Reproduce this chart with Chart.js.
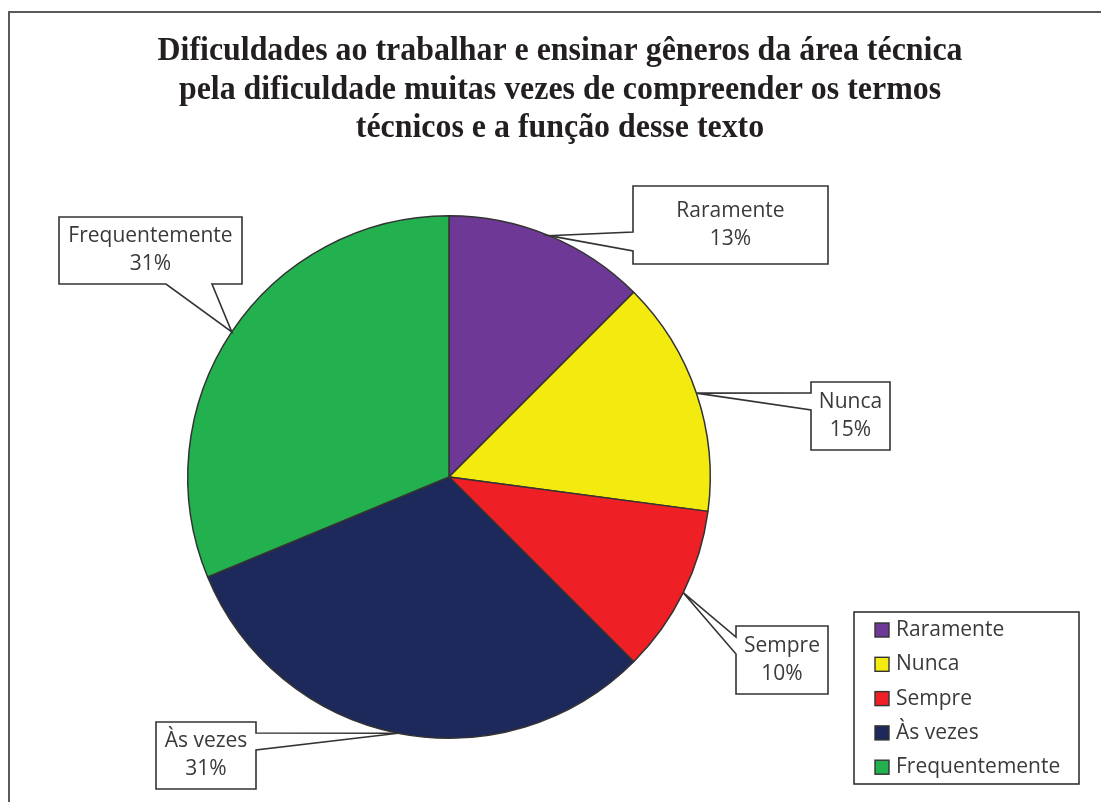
<!DOCTYPE html>
<html>
<head>
<meta charset="utf-8">
<script src="https://cdn.jsdelivr.net/npm/chart.js@4"></script>
<style>
  html, body { margin: 0; padding: 0; background: #fff; }
  #chartWrapper { width: 1101px; height: 802px; }
</style>
</head>
<body>
<div id="chartWrapper">
  <canvas id="pieChart" width="1101" height="802"></canvas>
</div>
<script>
// values (slice angles), labels as printed
const categories = ['Raramente', 'Nunca', 'Sempre', 'Às vezes', 'Frequentemente'];
const values = [12.5, 14.6, 10.4, 31.25, 31.25];
const percentLabels = ['13%', '15%', '10%', '31%', '31%'];
const sliceColors = ['#6E3996', '#F3EA10', '#EE2026', '#1E295B', '#23B14F'];
const titleLines = [
  'Dificuldades ao trabalhar e ensinar gêneros da área técnica',
  'pela dificuldade muitas vezes de compreender os termos',
  'técnicos e a função desse texto'
];

const LINE = '#333333';
const TEXT = '#3a3a3a';
const LABEL_FONT = '21px "Open Sans"';

// callout boxes: box rect + which side the pointer leaves from (a, b = offsets along that side)
const calloutBoxes = [
  { x: 633, y: 186, w: 195, h: 78, side: 'left', a: 46, b: 65 },
  { x: 811, y: 382, w: 79, h: 68, side: 'left', a: 11, b: 28 },
  { x: 736, y: 626, w: 92, h: 68, side: 'left', a: 11, b: 28 },
  { x: 156, y: 722, w: 100, h: 67, side: 'right', a: 11, b: 28 },
  { x: 59, y: 217, w: 183, h: 67, side: 'bottom', a: 107, b: 153 }
];

const framePlugin = {
  id: 'frame',
  beforeDraw(chart) {
    const ctx = chart.ctx;
    ctx.save();
    ctx.fillStyle = '#fff';
    ctx.fillRect(0, 0, chart.width, chart.height);
    ctx.strokeStyle = '#5a5a5a';
    ctx.lineWidth = 2;
    ctx.beginPath();
    ctx.moveTo(9, chart.height);
    ctx.lineTo(9, 12);
    ctx.lineTo(chart.width, 12);
    ctx.stroke();

    // title, a bit condensed like the original
    ctx.fillStyle = '#231F20';
    ctx.font = 'bold 34px "Liberation Serif"';
    ctx.textAlign = 'center';
    ctx.textBaseline = 'alphabetic';
    const sx = 805 / ctx.measureText(titleLines[0]).width;
    titleLines.forEach((t, i) => {
      ctx.save();
      ctx.translate(560, 60 + i * 38.5);
      ctx.scale(sx, 1);
      ctx.fillText(t, 0, 0);
      ctx.restore();
    });
    ctx.restore();
  }
};

const calloutPlugin = {
  id: 'callouts',
  afterDatasetsDraw(chart) {
    const ctx = chart.ctx;
    const arcs = chart.getDatasetMeta(0).data;
    ctx.save();
    arcs.forEach((arc, i) => {
      const box = calloutBoxes[i];
      const mid = (arc.startAngle + arc.endAngle) / 2;
      const tx = arc.x + arc.outerRadius * Math.cos(mid);
      const ty = arc.y + arc.outerRadius * Math.sin(mid);
      const l = box.x, t = box.y, r = box.x + box.w, b = box.y + box.h;

      ctx.beginPath();
      if (box.side === 'left') {
        ctx.moveTo(l, t);
        ctx.lineTo(r, t);
        ctx.lineTo(r, b);
        ctx.lineTo(l, b);
        ctx.lineTo(l, t + box.b);
        ctx.lineTo(tx, ty);
        ctx.lineTo(l, t + box.a);
      } else if (box.side === 'right') {
        ctx.moveTo(l, t);
        ctx.lineTo(r, t);
        ctx.lineTo(r, t + box.a);
        ctx.lineTo(tx, ty);
        ctx.lineTo(r, t + box.b);
        ctx.lineTo(r, b);
        ctx.lineTo(l, b);
      } else {
        ctx.moveTo(l, t);
        ctx.lineTo(r, t);
        ctx.lineTo(r, b);
        ctx.lineTo(l + box.b, b);
        ctx.lineTo(tx, ty);
        ctx.lineTo(l + box.a, b);
        ctx.lineTo(l, b);
      }
      ctx.closePath();
      ctx.fillStyle = '#fff';
      ctx.fill();
      ctx.strokeStyle = LINE;
      ctx.lineWidth = 1.6;
      ctx.stroke();

      ctx.fillStyle = TEXT;
      ctx.font = LABEL_FONT;
      ctx.textAlign = 'center';
      ctx.textBaseline = 'middle';
      const cx = l + box.w / 2, cy = t + box.h / 2;
      ctx.fillText(categories[i], cx, cy - 14);
      ctx.fillText(percentLabels[i], cx, cy + 14);
    });
    ctx.restore();
  }
};

const legendPlugin = {
  id: 'boxLegend',
  afterDraw(chart) {
    const ctx = chart.ctx;
    ctx.save();
    ctx.fillStyle = '#fff';
    ctx.fillRect(854, 612, 225, 172);
    ctx.strokeStyle = LINE;
    ctx.lineWidth = 1.6;
    ctx.strokeRect(854, 612, 225, 172);
    ctx.font = LABEL_FONT;
    ctx.textAlign = 'left';
    ctx.textBaseline = 'middle';
    categories.forEach((c, i) => {
      const y = 630 + i * 34.3;
      ctx.fillStyle = sliceColors[i];
      ctx.fillRect(875, y - 7, 14, 14);
      ctx.strokeStyle = LINE;
      ctx.lineWidth = 1.4;
      ctx.strokeRect(875, y - 7, 14, 14);
      ctx.fillStyle = TEXT;
      ctx.fillText(c, 896, y);
    });
    ctx.restore();
  }
};

const chartData = {
  labels: categories,
  datasets: [{
    data: values,
    backgroundColor: sliceColors,
    borderColor: LINE,
    borderWidth: 1.5
  }]
};

const config = {
  type: 'pie',
  data: chartData,
  options: {
    responsive: false,
    animation: false,
    devicePixelRatio: 1,
    layout: {
      padding: { left: 187, right: 390, top: 215, bottom: 63 }
    },
    plugins: {
      legend: { display: false },
      title: { display: false },
      tooltip: { enabled: false }
    }
  },
  plugins: [framePlugin, calloutPlugin, legendPlugin]
};

const chart = new Chart(document.getElementById('pieChart'), config);
</script>
</body>
</html>
